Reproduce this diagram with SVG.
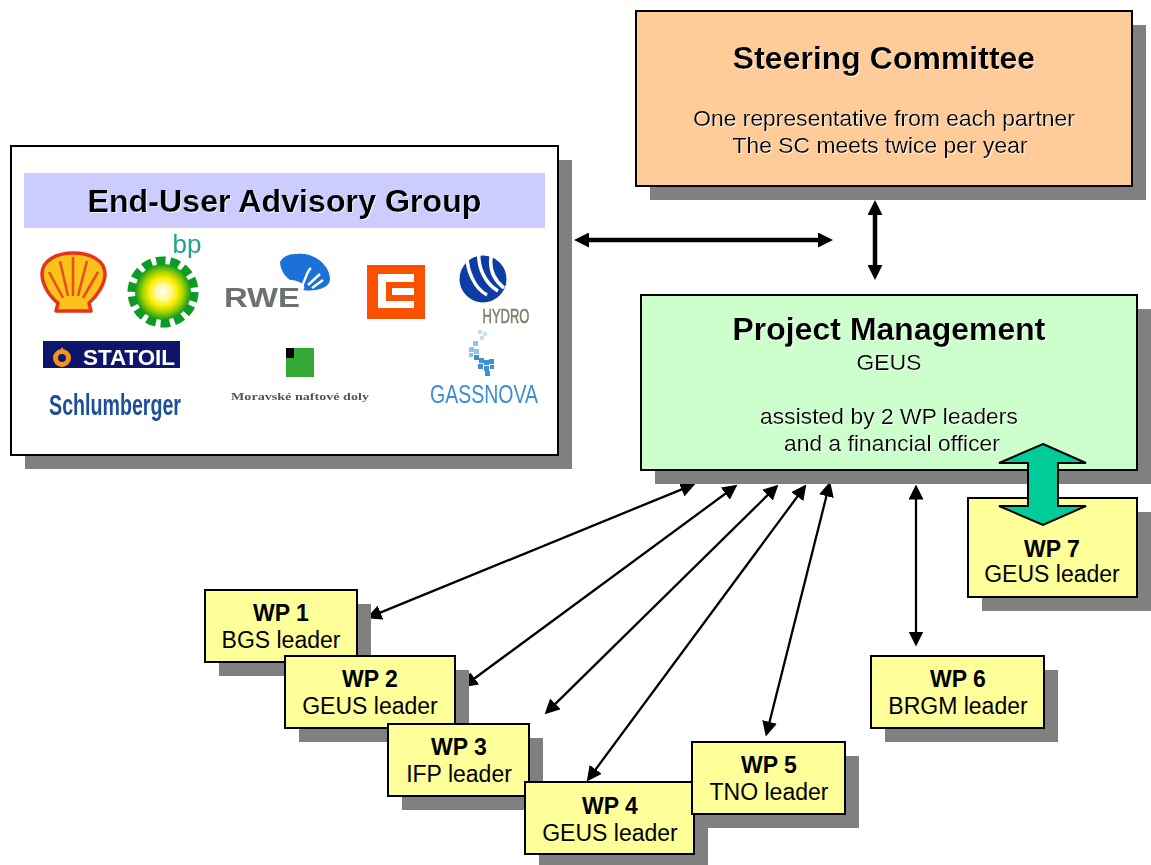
<svg xmlns="http://www.w3.org/2000/svg" width="1151" height="865" viewBox="0 0 1151 865">
<style>
text{font-family:"Liberation Sans",Arial,sans-serif;fill:#000;text-anchor:middle}
.box{stroke:#000;stroke-width:2}
.sh{fill:#808080}
.wp{fill:#ffff99}
.t{font-size:22.9px}
.b{font-weight:bold}
.wt{font-size:23px}
.title{font-size:32px;font-weight:bold}
.soft{filter:url(#soft)}
.logo{filter:url(#blur)}
.conn{fill:none;stroke:#000;stroke-width:2.3}
.thick{stroke-width:4.5}
</style>
<defs>
<filter id="soft" x="-5%" y="-20%" width="110%" height="140%"><feDropShadow dx="1" dy="1" stdDeviation="0.5" flood-color="#fff" flood-opacity="0.7"/></filter>
<filter id="blur" x="-10%" y="-10%" width="120%" height="120%"><feGaussianBlur stdDeviation="0.55"/></filter>
<radialGradient id="bpg"><stop offset="0" stop-color="#fffef0"/><stop offset="0.28" stop-color="#fff9a0"/><stop offset="0.5" stop-color="#ffee00"/><stop offset="0.72" stop-color="#a8d400"/><stop offset="1" stop-color="#109a20"/></radialGradient>
<marker id="a" viewBox="0 0 10 10" refX="5" refY="5" markerWidth="15" markerHeight="15" markerUnits="userSpaceOnUse" orient="auto-start-reverse"><path d="M0 0L10 5L0 10Z" fill="#000"/></marker>
<marker id="ab" viewBox="0 0 10 10" refX="5" refY="5" markerWidth="15" markerHeight="15" markerUnits="userSpaceOnUse" orient="auto-start-reverse"><path d="M0 0L10 5L0 10Z" fill="#000"/></marker>
</defs>
<rect width="1151" height="865" fill="#fff"/>
<g id="steering"><rect class="sh" x="650" y="25" width="496" height="175"/><rect class="box" x="636" y="11" width="496" height="175" fill="#ffcc99"/>
<g class="soft"><text class="title" x="884" y="69">Steering Committee</text><text class="t" x="884" y="126">One representative from each partner</text><text class="t" x="880" y="153">The SC meets twice per year</text></g></g>
<g id="advisory"><rect class="sh" x="25" y="160" width="547" height="309"/><rect class="box" x="11" y="146" width="547" height="309" fill="#fff"/>
<rect x="24" y="173" width="521" height="55" fill="#ccccff"/>
<text class="b soft" x="284.500" y="212" font-size="32.200">End-User Advisory Group</text>
<g id="shell" class="logo"><path d="M56 311L58 303C50 297 42 285 42 274C42 260 57 253 73 253C90 253 105 260 105 274C105 285 96 297 89 303L91 311Z" fill="#fbc21b" stroke="#e8331f" stroke-width="3.5" stroke-linejoin="round"/><path d="M73 296L73 257M68 296L60 261M78 296L87 261M63 298L49 272M83 298L98 272" stroke="#e8501f" stroke-width="2.6" fill="none"/></g>
<g id="bp" class="logo"><text x="187" y="253" font-size="26" style="fill:#1aa58b">bp</text><circle cx="163" cy="292" r="30" fill="none" stroke="#0d9a25" stroke-width="11" stroke-dasharray="9 4.460"/><circle cx="163" cy="292" r="28" fill="url(#bpg)"/></g>
<g id="rwe" class="logo"><text x="262" y="307" font-size="27" font-weight="bold" style="fill:#6d7073" textLength="76" lengthAdjust="spacingAndGlyphs">RWE</text><path d="M280 262C284 255 290 254 297 254C315 252 330 266 330 279C330 288 316 292 303 290C308 286 299 280 290 280C284 276 280 268 280 262Z" fill="#1b6fd8"/><path d="M300 290C306 280 306 272 311 268M308 285L320 274M312 288L323 280" stroke="#fff" stroke-width="2.400" fill="none"/></g>
<g id="cez"><rect x="367" y="265" width="58" height="54" fill="#fa5000"/><path d="M378 274H414V282H386V301H414V308H378Z" fill="#fff"/><rect x="392" y="288" width="22" height="7" fill="#fff"/></g>
<g id="hydro" class="logo"><circle cx="483" cy="279" r="23.500" fill="#0f3ea3"/><path d="M467 256C467 270 474 288 487 295M479 250C477 268 486 284 498 291M492 252C488 268 494 280 504 288" fill="none" stroke="#fff" stroke-width="3.500"/><text x="506" y="323" font-size="20" style="fill:#807c68;stroke:#807c68;stroke-width:.5" textLength="47" lengthAdjust="spacingAndGlyphs">HYDRO</text></g>
<g id="statoil" class="logo"><rect x="43" y="341" width="137" height="27" fill="#10186a"/><circle cx="62" cy="358" r="6.500" fill="#10186a" stroke="#f2941c" stroke-width="5"/><path d="M62 347l3 5h-6z" fill="#f2941c"/><text x="129" y="364.500" font-size="22" font-weight="bold" style="fill:#fff" textLength="92" lengthAdjust="spacingAndGlyphs">STATOIL</text></g>
<g id="schlumberger" class="logo"><text transform="translate(115 415) scale(.68 1)" font-size="30" font-weight="bold" style="fill:#1c4f98" textLength="194" lengthAdjust="spacingAndGlyphs">Schlumberger</text></g>
<g id="mnd"><rect x="286" y="348" width="28" height="29" fill="#35a935"/><rect x="286" y="348" width="8" height="10" fill="#000"/><text class="logo" x="300" y="400" font-size="11" font-weight="bold" style="font-family:'Liberation Serif',serif;fill:#555" textLength="138" lengthAdjust="spacingAndGlyphs">Moravské naftové doly</text></g>
<g id="gassnova" class="logo"><path d="M478 330h4v4h-4zM483 332h4v4h-4zM480 336h4v4h-4z" fill="#bfe2ee"/><path d="M473 341h5v5h-5zM469 347h5v5h-5zM474 349h5v5h-5zM469 353h4v4h-4z" fill="#8cc6e6"/><path d="M474 355h5v5h-5zM479 358h5v5h-5zM484 360h5v5h-5zM489 359h5v5h-5zM478 364h5v5h-5zM484 366h5v5h-5zM490 365h4v4h-4zM485 371h5v5h-5z" fill="#3f8fd0"/><text x="484" y="403" font-size="26" style="fill:#3a8fd0" textLength="108" lengthAdjust="spacingAndGlyphs">GASSNOVA</text></g>
</g>
<g id="connectors">
<path class="conn thick" d="M581.500 240H825.500" marker-start="url(#ab)" marker-end="url(#ab)"/>
<path class="conn thick" d="M875 207.500V272.500" marker-start="url(#ab)" marker-end="url(#ab)"/>
<path class="conn" d="M688.500 486.600L373.500 615.400" marker-start="url(#a)" marker-end="url(#a)"/>
<path class="conn" d="M731.400 489.200L468.600 682.800" marker-start="url(#a)" marker-end="url(#a)"/>
<path class="conn" d="M773 489.900L550 709.100" marker-start="url(#a)" marker-end="url(#a)"/>
<path class="conn" d="M801.800 490.600L591.200 775.400" marker-start="url(#a)" marker-end="url(#a)"/>
<path class="conn" d="M828.300 488.800L767.700 729.200" marker-start="url(#a)" marker-end="url(#a)"/>
<path class="conn" d="M916 492V639" marker-start="url(#a)" marker-end="url(#a)"/>
</g>
<g id="pm"><rect class="sh" x="655" y="309" width="496" height="175"/><rect class="box" x="641" y="295" width="496" height="175" fill="#ccffcc"/>
<g class="soft"><text class="title" x="889" y="340">Project Management</text><text class="t" x="889" y="370">GEUS</text><text class="t" x="889" y="424">assisted by 2 WP leaders</text><text class="t" x="892" y="451">and a financial officer</text></g></g>
<g id="wp7"><rect class="sh" x="982" y="512" width="169" height="99"/><rect class="box wp" x="968" y="498" width="169" height="99"/><text class="b wt" x="1052" y="557">WP 7</text><text class="wt" x="1052" y="582">GEUS leader</text></g>
<g id="wp7link"><path d="M1043 444L1086 463H1058V506H1086L1043 525L999 506H1028V463H999Z" fill="#00cc99" stroke="#000" stroke-width="2"/></g>
<g id="wp1"><rect class="sh" x="219" y="604" width="152" height="72"/><rect class="box wp" x="205" y="590" width="152" height="72"/><text class="b wt" x="281" y="621">WP 1</text><text class="wt" x="281" y="648">BGS leader</text></g>
<g id="wp2"><rect class="sh" x="299" y="670" width="170" height="72"/><rect class="box wp" x="285" y="656" width="170" height="72"/><text class="b wt" x="370" y="687">WP 2</text><text class="wt" x="370" y="714">GEUS leader</text></g>
<g id="wp3"><rect class="sh" x="402" y="738" width="141" height="72"/><rect class="box wp" x="388" y="724" width="141" height="72"/><text class="b wt" x="459" y="755">WP 3</text><text class="wt" x="459" y="782">IFP leader</text></g>
<g id="wp4"><rect class="sh" x="539" y="796" width="169" height="69"/><rect class="box wp" x="525" y="782" width="169" height="72"/><text class="b wt" x="610" y="814">WP 4</text><text class="wt" x="610" y="841">GEUS leader</text></g>
<g id="wp5"><rect class="sh" x="706" y="756" width="153" height="72"/><rect class="box wp" x="692" y="742" width="153" height="72"/><text class="b wt" x="769" y="773">WP 5</text><text class="wt" x="769" y="800">TNO leader</text></g>
<g id="wp6"><rect class="sh" x="885" y="670" width="173" height="72"/><rect class="box wp" x="871" y="656" width="173" height="72"/><text class="b wt" x="958" y="687">WP 6</text><text class="wt" x="958" y="714">BRGM leader</text></g>
</svg>
